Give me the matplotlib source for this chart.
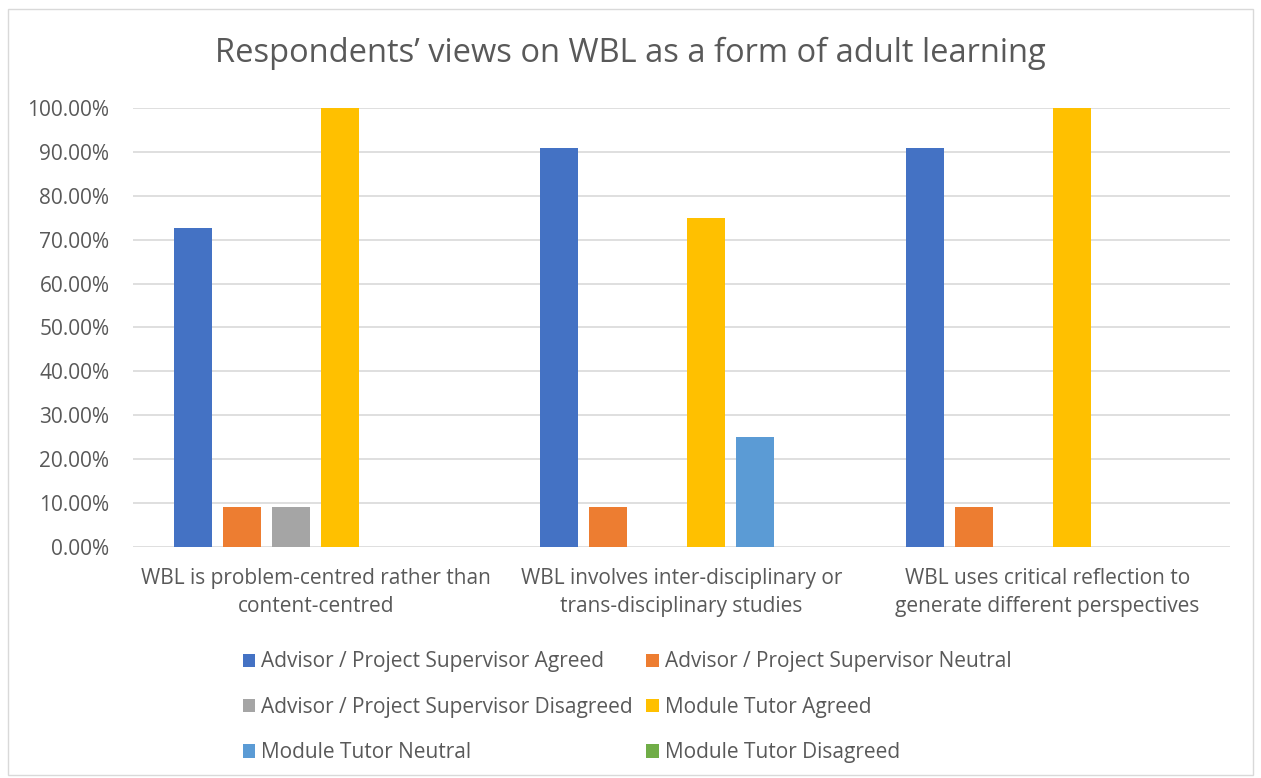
import matplotlib
matplotlib.use("Agg")
import matplotlib.pyplot as plt
import numpy as np
from matplotlib.patches import Rectangle
from matplotlib.ticker import FuncFormatter

categories = [
    "WBL is problem-centred rather than\ncontent-centred",
    "WBL involves inter-disciplinary or\ntrans-disciplinary studies",
    "WBL uses critical reflection to\ngenerate different perspectives",
]
series_names = [
    "Advisor / Project Supervisor Agreed",
    "Advisor / Project Supervisor Neutral",
    "Advisor / Project Supervisor Disagreed",
    "Module Tutor Agreed",
    "Module Tutor Neutral",
    "Module Tutor Disagreed",
]
series_values = [
    [0.7273, 0.9091, 0.9091],
    [0.0909, 0.0909, 0.0909],
    [0.0909, 0.0, 0.0],
    [1.0, 0.75, 1.0],
    [0.0, 0.25, 0.0],
    [0.0, 0.0, 0.0],
]
colors = ["#4472C4", "#ED7D31", "#A5A5A5", "#FFC000", "#5B9BD5", "#70AD47"]

TEXT = "#595959"
plt.rcParams["font.family"] = ["Open Sans", "DejaVu Sans"]

fig = plt.figure(figsize=(12.61, 7.78), dpi=100)
fig.patches.append(Rectangle((0.006, 0.004), 0.988, 0.985, transform=fig.transFigure,
                             fill=False, edgecolor="#d9d9d9", lw=1))
ax = fig.add_axes([0.1055, 0.2969, 0.8700, 0.5643])

x = np.arange(len(categories))
step = 0.134
width = 0.104
offsets = (np.arange(len(series_names)) - 2.5) * step
handles = []
for i, (name, vals) in enumerate(zip(series_names, series_values)):
    b = ax.bar(x + offsets[i], vals, width, color=colors[i], label=name, zorder=3)
    handles.append(b)

ax.set_xlim(-0.5, 2.5)
ax.set_ylim(0, 1.0)
ax.set_yticks(np.arange(0, 1.01, 0.1))
ax.yaxis.set_major_formatter(FuncFormatter(lambda v, _: f"{v * 100:.2f}%"))
ax.grid(axis="y", color="#d9d9d9", lw=1.2, zorder=0)
for s in ax.spines.values():
    s.set_visible(False)
ax.tick_params(axis="y", length=0, pad=17, labelsize=15, labelcolor=TEXT)
ax.set_xticks(x)
ax.set_xticklabels(categories, fontsize=15, color=TEXT, linespacing=1.46)
ax.tick_params(axis="x", length=0, pad=15)

fig.suptitle("Respondents’ views on WBL as a form of adult learning",
             y=0.953, fontsize=23.5, color=TEXT)

# row-major order across two columns
order = [0, 2, 4, 1, 3, 5]
leg = fig.legend(handles=[handles[i] for i in order],
                 labels=[series_names[i] for i in order], ncol=2,
                 loc="upper left", bbox_to_anchor=(0.1925, 0.1626),
                 frameon=False, fontsize=15, handlelength=0.6, handleheight=0.6,
                 handletextpad=0.3, columnspacing=0.63, labelspacing=1.17,
                 borderpad=0, borderaxespad=0)
for t in leg.get_texts():
    t.set_color(TEXT)

fig.savefig("out.png", dpi=100)
